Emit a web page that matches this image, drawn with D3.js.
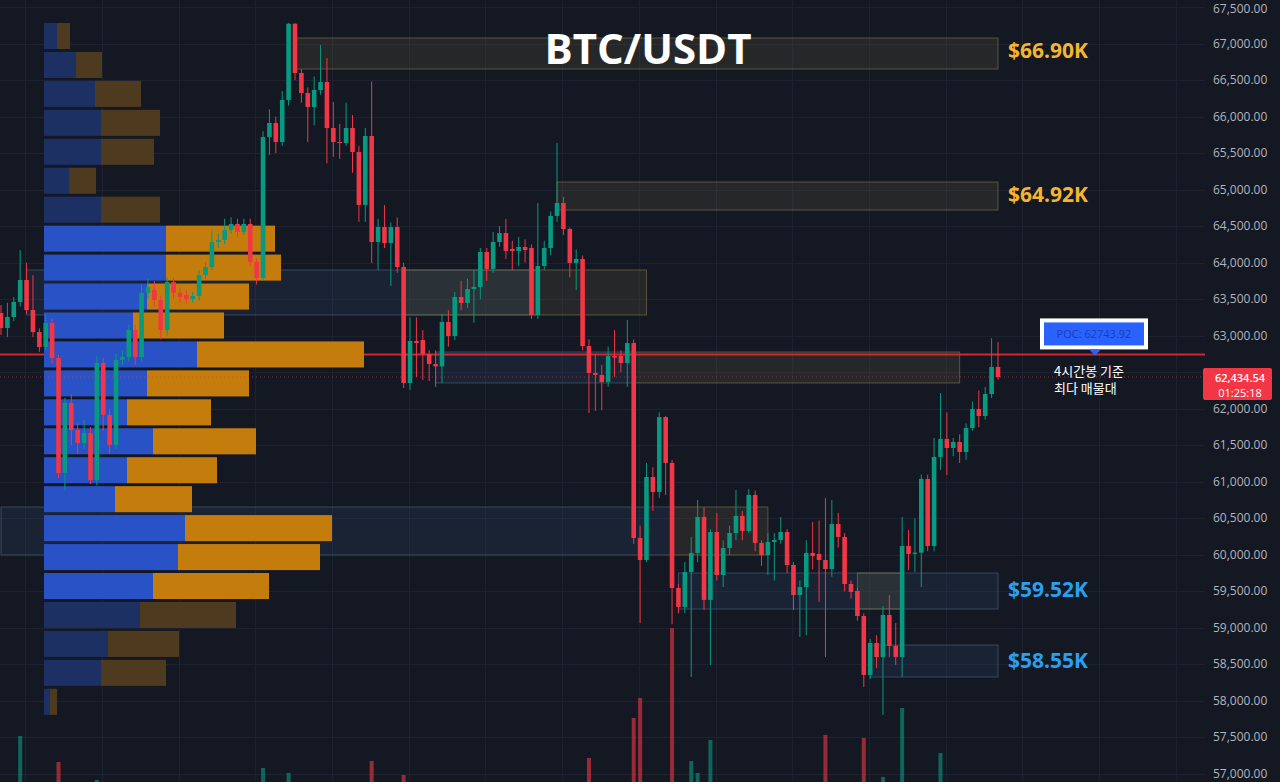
<!DOCTYPE html>
<html>
<head>
<meta charset="utf-8">
<script src="https://cdn.jsdelivr.net/npm/d3@7"></script>
<style>
  body { margin: 0; background: #141823; }
  svg { display: block; }
</style>
</head>
<body>
<script>

// BTC/USDT 4h candles, oldest first
var opens = [63311,63106,63256,63462,63763,63352,63051,62846,63174,62695,
  61121,62079,61709,61531,61668,61025,62627,61915,61504,62668,
  62709,63078,62709,63585,63626,63489,63078,63735,63585,63560,
  63500,63545,63831,63941,64283,64310,64447,64530,64420,64530,
  64009,63790,65720,65912,65652,66227,67270,66597,66323,66131,
  66364,66473,65844,65652,65638,65844,65515,64790,65734,64283,
  64488,64269,64488,63941,62353,62928,62941,62750,62613,62580,
  63188,62996,63530,63448,63640,63667,64146,63914,64283,64406,
  64187,64160,64215,64201,63284,63955,64201,64639,64817,64461,
  63996,64050,62859,62490,62463,62367,62722,62722,62627,62900,
  60231,59930,61066,60861,61887,61258,59547,59287,59765,60026,
  60519,59383,60313,59724,60094,60299,60533,60327,60820,60163,
  59998,60176,60204,60313,59861,59451,59560,60026,60012,59930,
  59806,60423,60245,59601,59506,59163,58356,58794,58602,59177,
  58753,58602,60122,60012,60030,61039,60122,61340,61586,61463,
  61545,61408,61737,61997,61901,62202,62572];
var highs = [63420,63450,63530,64173,64000,63830,63100,63300,63230,62740,
  62150,62200,61800,61850,61750,62720,62700,62000,62760,62800,
  63150,63150,63700,63780,63750,63550,63800,63800,63650,63620,
  63600,63900,64000,64450,64400,64600,64620,64600,64600,64600,
  64050,65800,66100,66000,66350,67281,67281,66650,66400,66550,
  66980,66800,66200,65900,66190,66020,65600,65844,66480,64600,
  64790,64550,64620,64000,63250,63250,63078,62800,62800,63300,
  63350,63600,63750,63780,63900,64200,64200,64420,64500,64600,
  64300,64350,64320,64250,64817,64300,64700,65638,64900,64480,
  64180,64100,62950,62750,62600,62850,63078,62800,63215,62950,
  60400,61258,61200,61950,61900,61300,59600,59900,60245,60751,
  60650,60350,60574,60200,60400,60888,60600,60900,60880,60200,
  60300,60300,60519,60350,59900,59650,60200,60450,60470,60779,
  60750,60574,60300,59650,59550,59200,58850,58900,59300,59451,
  59068,60519,60340,60500,61100,61100,61600,62216,61950,61600,
  61650,61800,62100,62250,62300,62968,62914];
var lows = [63010,62980,63200,63400,63300,62980,62780,62800,62620,61050,
  60880,61500,61380,61450,60970,60950,61700,61380,61450,62600,
  62650,62600,62650,63500,63400,62950,63000,63500,63450,63440,
  63450,63480,63780,63900,64200,64250,64400,64350,64380,63950,
  63700,63750,65475,65500,65600,66150,66500,66190,65650,65880,
  66300,65360,65450,65420,65600,65230,64557,64557,63996,63900,
  64200,63680,63860,62284,62257,62435,62394,62380,62297,62353,
  62850,62940,63350,63380,63180,63500,63750,63860,64220,64050,
  63900,63950,64000,63230,63230,63900,64100,64560,64380,63800,
  63626,62800,61942,61970,61980,62300,62435,62500,62300,60150,
  59068,59900,60600,60780,60820,59050,59200,59200,58328,59900,
  59246,58493,59650,59560,60000,60200,60200,60300,60050,59850,
  59724,59650,60150,59750,59246,58876,58900,59800,59355,58602,
  59700,60100,59500,59400,59100,58191,58300,58450,57810,58600,
  58493,58328,59792,59765,59560,60050,60050,61162,61094,61350,
  61258,61300,61700,61750,61850,62150,62400];
var closes = [63106,63256,63462,63763,63352,63051,62846,63174,62695,61121,
  62079,61709,61531,61668,61025,62627,61915,61504,62668,62709,
  63078,62709,63585,63667,63489,63078,63735,63585,63530,63500,
  63545,63831,63941,64283,64310,64447,64530,64420,64530,64009,
  63790,65720,65912,65652,66227,67270,66597,66323,66131,66364,
  66473,65844,65652,65638,65844,65515,64790,65734,64283,64488,
  64269,64488,63941,62353,62928,62900,62750,62613,62580,63188,
  62996,63530,63448,63640,63667,64146,63914,64283,64406,64160,
  64160,64215,64173,63284,63955,64201,64639,64817,64461,63996,
  64050,62859,62490,62463,62367,62722,62700,62627,62900,60231,
  59930,61066,60861,61887,61258,59547,59287,59765,60026,60519,
  59383,60313,59724,60094,60299,60533,60327,60820,60163,59998,
  60176,60204,60313,59861,59451,59560,60026,59985,59930,59806,
  60423,60245,59601,59492,59163,58356,58794,58602,59177,58753,
  58602,60122,60012,60030,61039,60122,61340,61586,61463,61545,
  61408,61737,61997,61901,62202,62572,62434.54];
var volumes = [9,11,8,64,12,10,9,11,13,38,
  14,9,8,7,12,20,11,10,13,6,
  9,8,12,7,6,10,11,6,5,5,
  6,9,8,12,7,10,6,7,8,12,
  10,32,11,9,14,27,16,10,12,9,
  8,13,9,6,8,10,15,12,39,11,
  8,9,10,25,14,7,9,8,6,11,
  7,12,6,7,6,13,8,10,7,9,
  5,6,5,14,16,9,11,13,10,12,
  6,16,42,8,7,10,5,6,9,82,
  102,15,10,14,12,172,13,11,39,27,
  16,60,12,10,8,9,7,11,12,8,
  9,6,8,11,13,9,12,6,8,65,
  14,8,12,7,10,62,13,9,23,11,
  9,92,10,12,16,14,13,47,9,7,
  8,10,11,7,9,12,6];

// volume profile, rows from the top (highest price) down
var profileBuy  = [130,320,510,570,570,250,570,1220,1220,1030,890,1530,1030,830,1090,830,710,1410,1340,1090,960,640,570,60];
var profileSell = [130,260,460,590,530,270,590,1090,1150,1020,910,1670,1020,840,1030,900,770,1470,1420,1160,960,710,650,70];
var valueArea = [7, 19];

var poc = 62743.92;
var lastPrice = 62434.54;
var countdown = "01:25:18";

// supply / demand boxes
var zoneFrom   = [46,    87,    4,     63,    68,    99,    0,     105,   106,   134,   136];
var zoneTo     = [156,   156,   84,    101,   99,    150,   105,   120,   156,   141,   156];
var zoneTop    = [67076, 65104, 63900, 63900, 62777, 62777, 60655, 60655, 59752, 59752, 58766];
var zoneBottom = [66651, 64721, 63284, 63284, 62353, 62353, 59998, 59998, 59259, 59259, 58328];
var zoneKind   = ["supply","supply","demand","supply","demand","supply","demand","supply","demand","supply","demand"];

var levelText  = ["$66.90K", "$64.92K", "$59.52K", "$58.55K"];
var levelPrice = [66900, 64920, 59520, 58550];
var levelKind  = ["supply", "supply", "demand", "demand"];

var W = 1280, H = 782;
var plotRight = 1205;
var up = "#089981", down = "#f23645";

var svg = d3.select("body").append("svg")
    .attr("width", W)
    .attr("height", H);

svg.append("rect").attr("width", W).attr("height", H).attr("fill", "#141823");

var y = d3.scaleLinear().domain([57000, 67500]).range([774, 7]);
var x = d3.scaleLinear().domain([0, closes.length - 1]).range([1, 998]);
var vy = d3.scaleLinear().domain([0, 100]).range([800, 700]);

// grid
var ticks = d3.range(57000, 67501, 500);
svg.append("g").selectAll("line").data(ticks).enter().append("line")
    .attr("x1", 0).attr("x2", plotRight)
    .attr("y1", function(d) { return Math.round(y(d)) + 0.5; })
    .attr("y2", function(d) { return Math.round(y(d)) + 0.5; })
    .attr("stroke", "#1d2130");
var vgrid = d3.range(3.8, 200, 12).filter(function(d) { return x(d) < plotRight; });
svg.append("g").selectAll("line").data(vgrid).enter().append("line")
    .attr("x1", function(d) { return Math.round(x(d)) + 0.5; })
    .attr("x2", function(d) { return Math.round(x(d)) + 0.5; })
    .attr("y1", 0).attr("y2", H)
    .attr("stroke", "#1d2130");

// zones
svg.append("g").selectAll("rect").data(zoneFrom).enter().append("rect")
    .attr("x", function(d) { return x(d); })
    .attr("width", function(d, i) { return x(zoneTo[i]) - x(d); })
    .attr("y", function(d, i) { return y(zoneTop[i]); })
    .attr("height", function(d, i) { return y(zoneBottom[i]) - y(zoneTop[i]); })
    .attr("fill", function(d, i) { return zoneKind[i] == "supply" ? "rgba(125,120,70,0.17)" : "rgba(50,80,120,0.2)"; })
    .attr("stroke", function(d, i) { return zoneKind[i] == "supply" ? "rgba(150,140,80,0.5)" : "rgba(90,115,145,0.5)"; })
    .attr("stroke-width", 1);

// POC line
svg.append("line")
    .attr("x1", 0).attr("x2", plotRight)
    .attr("y1", y(poc)).attr("y2", y(poc))
    .attr("stroke", "#d3262f").attr("stroke-width", 2);

// volume profile
var rows = d3.scaleBand().domain(d3.range(profileBuy.length))
    .range([y(d3.max(highs)), y(d3.min(lows))])
    .paddingInner(0.1);
var pw = d3.scaleLinear()
    .domain([0, d3.max(profileBuy, function(d, i) { return d + profileSell[i]; })])
    .range([0, 320]);
var profileLeft = 44;
var inVA = function(i) { return i >= valueArea[0] && i <= valueArea[1]; };
var prow = svg.append("g").selectAll("g").data(profileBuy).enter().append("g")
    .attr("transform", function(d, i) { return "translate(" + profileLeft + "," + rows(i) + ")"; });
prow.append("rect")
    .attr("width", function(d) { return pw(d); })
    .attr("height", rows.bandwidth())
    .attr("fill", function(d, i) { return inVA(i) ? "#2852c6" : "#1c3063"; });
prow.append("rect")
    .attr("x", function(d) { return pw(d); })
    .attr("width", function(d, i) { return pw(profileSell[i]); })
    .attr("height", rows.bandwidth())
    .attr("fill", function(d, i) { return inVA(i) ? "#c47d0d" : "#4e3a1f"; });

// volume bars
svg.append("g").selectAll("rect").data(volumes).enter().append("rect")
    .attr("x", function(d, i) { return x(i) - 2; })
    .attr("width", 4)
    .attr("y", function(d) { return vy(d); })
    .attr("height", function(d) { return vy(0) - vy(d); })
    .attr("fill", function(d, i) { return closes[i] >= opens[i] ? up : down; })
    .attr("opacity", 0.6);

// candles
var candle = svg.append("g").selectAll("g").data(closes).enter().append("g");
candle.append("line")
    .attr("x1", function(d, i) { return x(i); })
    .attr("x2", function(d, i) { return x(i); })
    .attr("y1", function(d, i) { return y(highs[i]); })
    .attr("y2", function(d, i) { return y(lows[i]); })
    .attr("stroke", function(d, i) { return d >= opens[i] ? up : down; })
    .attr("stroke-width", 1);
candle.append("rect")
    .attr("x", function(d, i) { return x(i) - 2.3; })
    .attr("width", 4.6)
    .attr("y", function(d, i) { return y(Math.max(d, opens[i])); })
    .attr("height", function(d, i) { return Math.max(1, Math.abs(y(d) - y(opens[i]))); })
    .attr("fill", function(d, i) { return d >= opens[i] ? up : down; });

// last price dotted line
svg.append("line")
    .attr("x1", 0).attr("x2", plotRight)
    .attr("y1", y(lastPrice)).attr("y2", y(lastPrice))
    .attr("stroke", down).attr("stroke-opacity", 0.6)
    .attr("stroke-dasharray", "1,3");

// price axis (the tick under the last-price tag is covered by it)
var ly = y(lastPrice);
svg.append("g").selectAll("text")
    .data(ticks.filter(function(d) { return Math.abs(y(d) - ly - 7) > 18; }))
    .enter().append("text")
    .attr("x", 1213)
    .attr("y", function(d) { return Math.max(y(d) + 4, 13); })
    .attr("fill", "#b2b5be")
    .style("font", "12px 'Open Sans', sans-serif")
    .text(function(d) { return d3.format(",.2f")(d); });

svg.append("rect")
    .attr("x", 1203).attr("y", ly - 9).attr("width", 69).attr("height", 32)
    .attr("rx", 2).attr("fill", down);
svg.append("text")
    .attr("x", 1240).attr("y", ly + 5)
    .attr("text-anchor", "middle").attr("fill", "#fff")
    .style("font", "600 11px 'Open Sans', sans-serif")
    .text(d3.format(",.2f")(lastPrice));
svg.append("text")
    .attr("x", 1240).attr("y", ly + 20)
    .attr("text-anchor", "middle").attr("fill", "#fff")
    .style("font", "11px 'Open Sans', sans-serif")
    .text(countdown);

// zone price labels
svg.append("g").selectAll("text").data(levelText).enter().append("text")
    .attr("x", 1008)
    .attr("y", function(d, i) { return y(levelPrice[i]) + 7; })
    .attr("fill", function(d, i) { return levelKind[i] == "supply" ? "#f5b52e" : "#2a9ff0"; })
    .style("font", "700 21px 'Open Sans', sans-serif")
    .text(function(d) { return d; });

// title
svg.append("text")
    .attr("x", 648).attr("y", 64)
    .attr("text-anchor", "middle").attr("fill", "#fff")
    .style("font", "700 42px 'Open Sans', sans-serif")
    .text("BTC/USDT");

// POC callout
var py = y(poc);
svg.append("rect")
    .attr("x", 1040).attr("y", py - 36).attr("width", 108).attr("height", 31)
    .attr("fill", "#fff");
svg.append("rect")
    .attr("x", 1044).attr("y", py - 32).attr("width", 100).attr("height", 23)
    .attr("fill", "#2962ff");
svg.append("path")
    .attr("d", "M1089," + (py - 5) + "L1101," + (py - 5) + "L1095," + (py + 1) + "Z")
    .attr("fill", "#2962ff");
svg.append("text")
    .attr("x", 1094).attr("y", py - 16)
    .attr("text-anchor", "middle").attr("fill", "#1a3fae")
    .style("font", "11px 'Open Sans', sans-serif")
    .text("POC: " + poc.toFixed(2));

svg.append("text")
    .attr("x", 1054).attr("y", 376)
    .attr("fill", "#fff")
    .style("font", "13px 'Noto Sans CJK KR', sans-serif")
    .text("4시간봉 기준");
svg.append("text")
    .attr("x", 1054).attr("y", 393)
    .attr("fill", "#fff")
    .style("font", "13px 'Noto Sans CJK KR', sans-serif")
    .text("최다 매물대");

</script>
</body>
</html>
